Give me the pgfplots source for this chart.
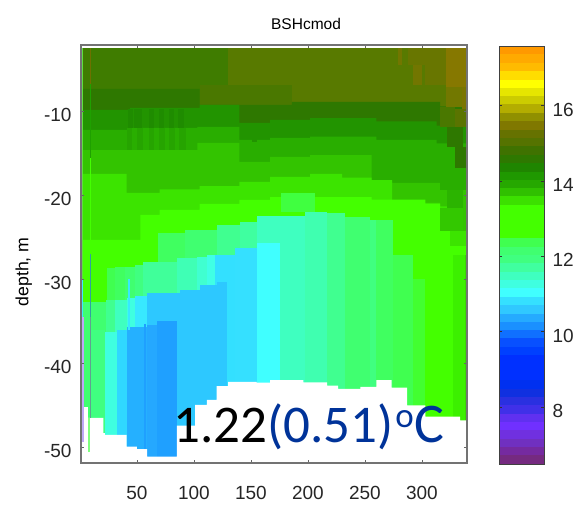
\documentclass[border=0pt]{standalone}
\usepackage{pgfplots}
\pgfplotsset{compat=1.18}
\usepackage{fontspec}
\setmainfont{Liberation Sans}
\newfontfamily\carl{Carlito}
\definecolor{annblue}{HTML}{003399}
\newcommand\lay[2]{\definecolor{x#1}{HTML}{#1}\addplot[const plot,fill=x#1,draw=none,mark=none] coordinates {#2 (340,-52)(1,-52)} --cycle;}
\newcommand\rct[5]{\definecolor{x#1}{HTML}{#1}\addplot[fill=x#1,draw=none,mark=none] coordinates {(#2,#4)(#3,#4)(#3,#5)(#2,#5)} --cycle;}
\newcommand\cb[3]{\definecolor{x#1}{HTML}{#1}\addplot[fill=x#1,draw=none,mark=none] coordinates {(0,#2)(1,#2)(1,#3)(0,#3)} --cycle;}
\begin{document}
\begin{tikzpicture}[x=1pt,y=1pt]
\path[use as bounding box] (0,0) rectangle (577,505);
\begin{axis}[
  at={(81pt,42pt)},anchor=south west,
  width=386pt,height=418pt,scale only axis,
  xmin=1,xmax=339.6,ymin=-51.86,ymax=-2.1,
  axis line style={draw=black!55,line width=1.3pt},
  tick style={draw=black!60,line width=0.7pt},
  major tick length=3pt,
  xtick={50,100,150,200,250,300},
  xticklabels={50,100,150,200,250,300},
  ytick={-50,-40,-30,-20,-10},
  yticklabels={-50,-40,-30,-20,-10},
  tick label style={font=\fontsize{19}{22}\selectfont,text=black!85},
  xticklabel style={yshift=-20pt},
  yticklabel style={xshift=-6pt,yshift=-3.5pt},
  title={BSHcmod},
  every axis title/.style={at={(axis description cs:0.583,1.05)},anchor=center,font=\fontsize{15.5}{19}\selectfont},
  ylabel={depth, m},
  every axis y label/.style={at={(axis description cs:-0.148,0.457)},anchor=center,rotate=90,font=\fontsize{17.7}{20}\selectfont},
  axis on top,
]
% base layers, painted from the surface down
\rct{3F7C00}{1}{340}{-2.45}{-52}
\rct{587A00}{130}{340}{-2.45}{-52}
\rct{727600}{279}{283}{-2.45}{-4.5}
\rct{687600}{288}{322}{-2.45}{-4.5}
\rct{727600}{292}{300}{-4.5}{-6.86}
\rct{687600}{303}{322}{-4.5}{-6.86}
\rct{4A7800}{105}{186}{-6.86}{-9.3}
\lay{2E7800}{(1,-7.33)(105,-9.24)(140,-9.24)(186,-8.88)(316,-9.4)}
\lay{229400}{(1,-9.83)(44,-9.6)(105,-9.24)(140,-11.38)(167,-11)(202,-10.8)(260,-11.2)(313,-11.7)}
\lay{29AE00}{(1,-12.21)(44,-11.98)(103,-11.86)(140,-13.4)(167,-13.17)(202,-13)(260,-13.4)(313,-13.8)}
\lay{33C400}{(1,-14.6)(103,-13.76)(140,-16)(167,-15.43)(202,-15.2)(256,-18.2)(274,-18.5)(316,-18.8)}
\lay{3CE400}{(1,-17.45)(41,-19.7)(70,-19.3)(105,-18.9)(140,-18.4)(167,-17.8)(202,-17.45)(230,-17.9)(256,-18.2)(274,-20.9)(316,-21.3)}
\lay{44FF00}{(1,-25.3)(53,-22.33)(70,-21.74)(105,-21)(140,-20.55)(167,-20.2)(256,-20.5)(303,-21)(316,-23.3)(325,-24.3)}
\rct{40FF40}{176}{206}{-19.7}{-22}
% right-hand patches
\rct{867800}{321}{340}{-2.45}{-7.1}
\rct{727800}{321}{335}{-7.1}{-9.5}
\rct{7A7500}{335}{340}{-7.1}{-9.7}
\rct{4A7800}{316}{329}{-9.5}{-11.86}
\rct{5A7400}{329}{340}{-9.7}{-11.86}
\rct{2E7800}{322}{336}{-11.86}{-14.2}
\rct{2E7800}{329}{340}{-14.2}{-16.7}
\rct{29AE00}{316}{340}{-16.7}{-19.4}
\rct{2BB400}{322}{336}{-19.4}{-21.5}
\rct{33C800}{316}{336}{-21.5}{-24.2}
\rct{33C400}{336}{340}{-19.4}{-26}
\rct{3CE400}{325}{340}{-24.3}{-26}
% water columns, upper tier
\rct{40FF60}{68.5}{92.2}{-24.48}{-52}
\rct{40FF70}{92.2}{120.3}{-24.12}{-52}
\rct{40FF90}{120.3}{140.4}{-23.52}{-52}
\rct{3FFFA0}{140.4}{155.4}{-23.17}{-52}
\rct{3FFFC0}{155.4}{197.4}{-22.5}{-52}
\rct{3FFFB0}{197.4}{216.7}{-22}{-52}
\rct{40FF90}{216.7}{232.5}{-22.1}{-52}
\rct{40FF70}{232.5}{254.5}{-22.57}{-52}
\rct{40FF80}{254.5}{259.7}{-22.93}{-52}
\rct{40FF60}{259.7}{274.6}{-22.93}{-52}
\rct{40FF50}{274.6}{292}{-27.1}{-52}
\rct{42FF30}{292}{302.7}{-30}{-52}
\rct{3CF000}{327}{337.8}{-27.1}{-52}
\rct{38D800}{337.8}{340}{-27.1}{-52}
% second tier
\rct{40FF50}{23.8}{30.8}{-28.64}{-52}
\rct{40FF60}{30.8}{39.6}{-28.5}{-52}
\rct{40FF70}{39.6}{48.4}{-28.5}{-52}
\rct{40FF80}{48.4}{55.4}{-28.3}{-52}
\rct{40FF9A}{55.4}{85.2}{-27.93}{-52}
\rct{3FFFB5}{85.2}{102.7}{-27.45}{-52}
\rct{40FFD0}{102.7}{111.5}{-27.33}{-52}
\rct{40FFE5}{111.5}{118.5}{-27.1}{-52}
\rct{33E0FF}{118.5}{136}{-27.1}{-52}
\rct{35E0FF}{136}{155.4}{-26.26}{-52}
\rct{40FFFF}{155.4}{175.5}{-25.67}{-52}
% third tier
\rct{40FF70}{1}{23}{-32.7}{-52}
\rct{40FF90}{23}{30.8}{-32.45}{-52}
\rct{3FFFC0}{30.8}{41.3}{-32.45}{-52}
\rct{3FFFE0}{41.3}{48.4}{-32.2}{-52}
\rct{38E8FF}{48.4}{59}{-32}{-52}
\rct{2DC8FF}{59}{88}{-31.62}{-52}
\rct{2DC8FF}{88}{120.3}{-31.26}{-52}
\rct{2DC8FF}{105}{120.3}{-30.67}{-52}
\rct{2DC8FF}{120.3}{129}{-30.3}{-52}
% fourth tier
\rct{40FF80}{9}{22}{-36}{-52}
\rct{3FFFE0}{22}{32.5}{-36.26}{-52}
\rct{30D8FF}{32.5}{41.3}{-36}{-52}
\rct{25B0FF}{41.3}{59}{-35.67}{-52}
\rct{25A8FF}{59}{67.7}{-35.43}{-52}
\rct{1FA0FF}{67.7}{85.2}{-34.95}{-52}
% fine vertical strips
\rct{1F8C00}{42}{47}{-9.7}{-12}
\rct{1F8C00}{47.5}{54.5}{-9.7}{-12}
\rct{1F8C00}{60.6}{65}{-9.7}{-12}
\rct{1F8C00}{69}{74}{-9.7}{-12}
\rct{1F8C00}{78}{82.5}{-9.7}{-12}
\rct{1F8C00}{86}{91}{-9.7}{-12}
\rct{26A400}{41}{45.5}{-12}{-14.6}
\rct{26A400}{50}{55}{-12}{-14.6}
\rct{26A400}{60.6}{65}{-12}{-14.6}
\rct{26A400}{69}{75}{-12}{-14.6}
\rct{26A400}{78.5}{83.5}{-12}{-14.6}
\rct{26A400}{87}{93}{-12}{-14.6}
\rct{229400}{151}{155}{-11.38}{-13.6}
\rct{2DC8FF}{107}{110}{-31}{-38}
\rct{1FA0FF}{56}{58}{-35.3}{-52}
\rct{38E8FF}{42}{44}{-30}{-36}
% bottom, below the sea bed
\lay{FFFFFF}{(1,-45.2)(7,-46.5)(20.6,-48.3)(22,-48.5)(41,-49.9)(50,-50.2)(59,-51.1)(85,-47.4)(101,-44.95)(111.5,-44.35)(120,-42.7)(130,-42.2)(155,-42.3)(167,-42)(196,-42.25)(217,-42.65)(226.5,-43.05)(246,-42.8)(260,-42)(273.5,-42.9)(287,-45)(303,-46.35)(333.5,-46.8)}
\rct{FFFFFF}{1}{340}{-2.1}{-2.45}
% strips at the left edge
\rct{60E040}{1.5}{2.8}{-2.45}{-30}
\rct{40E8FF}{1.5}{3}{-30}{-34.5}
\rct{C0A8F8}{1.5}{3.6}{-34.5}{-49.4}
\rct{6F7000}{8.5}{10}{-2.45}{-6.8}
\rct{1FA000}{8.5}{10}{-6.8}{-15.5}
\rct{44FF00}{8.5}{10}{-15.5}{-27}
\rct{30A0A0}{8.5}{10}{-27}{-34.5}
\rct{60A090}{8.5}{10}{-34.5}{-46.5}
\rct{80FF80}{7}{8.5}{-46.5}{-50.5}
\end{axis}
\begin{axis}[
  at={(499pt,41pt)},anchor=south west,
  width=45pt,height=418pt,scale only axis,
  xmin=0,xmax=1,ymin=6.49,ymax=17.58,
  axis line style={draw=black!75,line width=0.7pt},
  tick style={draw=black!80,line width=0.6pt},
  major tick length=3pt,
  xtick=\empty,
  ytick={8,10,12,14,16},
  yticklabels={8,10,12,14,16},
  ytick pos=both,
  yticklabel pos=right,
  tick label style={font=\fontsize{19}{22}\selectfont,text=black!85},
  yticklabel style={xshift=5pt,yshift=-4pt},
  axis on top,
]
\cb{FF9900}{17.58}{17.36}\cb{FFAA00}{17.36}{17.14}\cb{FFBB00}{17.14}{16.91}\cb{FFDD00}{16.91}{16.69}\cb{FFFF00}{16.69}{16.47}
\cb{E6E600}{16.47}{16.25}\cb{CCCC00}{16.25}{16.03}\cb{B3AD00}{16.03}{15.80}\cb{909000}{15.80}{15.58}\cb{807800}{15.58}{15.36}
\cb{667200}{15.36}{15.14}\cb{557300}{15.14}{14.92}\cb{3F7200}{14.92}{14.70}\cb{2E7800}{14.70}{14.47}\cb{1F8500}{14.47}{14.25}
\cb{1F9800}{14.25}{14.03}\cb{26A800}{14.03}{13.81}\cb{30C000}{13.81}{13.59}\cb{3CE000}{13.59}{13.37}\cb{44FF00}{13.37}{13.14}
\cb{44FF00}{13.14}{12.92}\cb{44FF00}{12.92}{12.70}\cb{44FF00}{12.70}{12.48}\cb{40FF50}{12.48}{12.26}\cb{40FF70}{12.26}{12.04}
\cb{40FF80}{12.04}{11.81}\cb{40FFA0}{11.81}{11.59}\cb{3FFFC0}{11.59}{11.37}\cb{3FFFE0}{11.37}{11.15}\cb{40FFFF}{11.15}{10.93}
\cb{35E0FF}{10.93}{10.71}\cb{30C8FF}{10.71}{10.48}\cb{25AAFF}{10.48}{10.26}\cb{1A90FF}{10.26}{10.04}\cb{1070FF}{10.04}{9.82}
\cb{0850FF}{9.82}{9.60}\cb{0040FF}{9.60}{9.38}\cb{0030FF}{9.38}{9.15}\cb{0030FF}{9.15}{8.93}\cb{0030FF}{8.93}{8.71}
\cb{0030F0}{8.71}{8.49}\cb{1030E0}{8.49}{8.27}\cb{2A30E0}{8.27}{8.05}\cb{4030E8}{8.05}{7.82}\cb{6030F0}{7.82}{7.60}
\cb{7030FF}{7.60}{7.38}\cb{7030E0}{7.38}{7.16}\cb{7030C0}{7.16}{6.94}\cb{752AA0}{6.94}{6.72}\cb{752A80}{6.72}{6.49}
\end{axis}
\node[anchor=base west,inner sep=0pt] at (173,62) {\carl\fontsize{53}{60}\selectfont 1.22{\color{annblue}(0.51)\hspace{2pt}\raisebox{15pt}{\fontsize{35}{38}\selectfont o}\hspace{1pt}{\fontsize{56}{60}\selectfont C}}};
\end{tikzpicture}
\end{document}
